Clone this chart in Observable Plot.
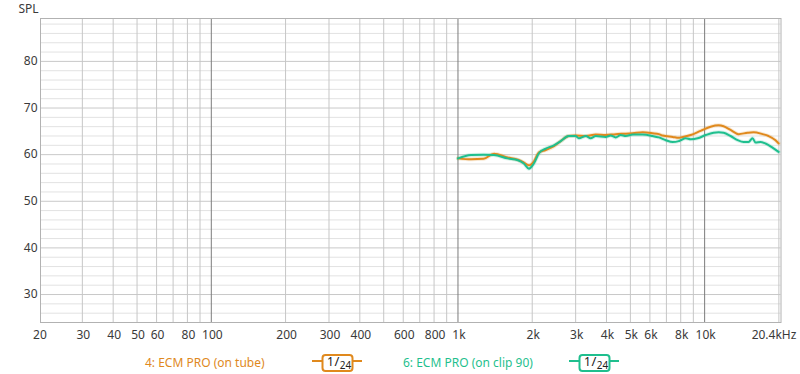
<!DOCTYPE html>
<html>
<head>
<meta charset="utf-8">
<script src="https://cdn.jsdelivr.net/npm/d3@7"></script>
<script src="https://cdn.jsdelivr.net/npm/@observablehq/plot@0.6"></script>
<style>
  html, body { margin: 0; padding: 0; background: #fff; }
  #wrap { width: 800px; height: 374px; overflow: hidden; font-family: "Noto Sans", "Open Sans", sans-serif; }
  svg { display: block; }
</style>
</head>
<body>
<div id="wrap"></div>
<script>
// ---- data ----
const seriesNames = ["4: ECM PRO (on tube)", "6: ECM PRO (on clip 90)"];
const seriesColors = ["#e0891d", "#1fbf8e"];
const smoothing = "1/24";

const freqTube = [1000,1130,1270,1400,1590,1750,1850,1940,2030,2130,2270,2450,2610,2810,3000,3300,3620,3970,4360,4790,5110,5610,6150,6520,6760,7420,7850,8000,8780,9630,10570,11400,11940,12740,13740,14930,15790,17170,18150,19380,19950];
const splTube  = [59.2,59.0,59.1,60.2,59.4,58.9,58.3,57.7,58.5,60.5,61.0,61.8,62.9,64.0,64.1,64.0,64.3,64.2,64.4,64.5,64.6,64.8,64.6,64.4,64.1,63.8,63.6,63.7,64.2,65.1,66.0,66.3,66.1,65.3,64.4,64.7,64.8,64.4,64.0,63.1,62.4];

const freqClip = [1000,1130,1270,1400,1590,1750,1850,1940,2030,2130,2270,2450,2610,2810,3000,3090,3300,3450,3620,3970,4160,4360,4570,4790,5110,5610,6150,6520,6960,7420,7850,8000,8380,8780,9370,10100,10870,11400,11940,12740,13610,14390,15070,15640,16080,16850,17650,18840,19950];
const splClip  = [59.2,59.9,60.0,59.9,59.2,58.8,58.1,57.0,58.1,60.3,61.3,62.0,62.9,64.0,64.0,63.5,64.0,63.5,64.0,63.8,64.1,63.7,64.2,64.0,64.3,64.3,64.0,63.7,63.1,62.7,62.9,63.1,63.5,63.3,63.5,64.2,64.7,64.8,64.7,64.0,63.1,62.7,62.7,63.5,62.6,62.7,62.4,61.5,60.6];

const xTicks = [20,30,40,50,60,80,100,200,300,400,600,800,1000,2000,3000,4000,5000,6000,8000,10000];
const xTickLabels = ["20","30","40","50","60","80","100","200","300","400","600","800","1k","2k","3k","4k","5k","6k","8k","10k"];
const xEndValue = 20400;
const xEndLabel = "20.4kHz";
const yTicks = [30,40,50,60,70,80];
const yLabel = "SPL";

// grid values
const gridX = [30,40,50,60,70,80,90,200,300,400,500,600,700,800,900,2000,3000,4000,5000,6000,7000,8000,9000,20000];
const gridXDecade = [100,1000,10000];
const gridYMinor = d3.range(24, 89, 2).filter(v => v % 10 !== 0);
const gridYMajor = d3.range(30, 89, 10);

const tube = freqTube.map((f, i) => ({f, v: splTube[i]}));
const clip = freqClip.map((f, i) => ({f, v: splClip[i]}));
const xLabelData = xTicks.map((t, i) => ({t, label: xTickLabels[i]}));

const font = '"Noto Sans", "Open Sans", sans-serif';
const textColor = "#3a3a3a";

const chart = Plot.plot({
  width: 800,
  height: 345,
  marginTop: 18,
  marginBottom: 23,
  marginLeft: 40,
  marginRight: 19.5,
  style: {fontFamily: font, fontSize: "12px", color: textColor, background: "#fff"},
  x: {type: "log", domain: [20.3, 20400], axis: null},
  y: {domain: [24, 89.2], axis: null},
  marks: [
    Plot.ruleY(gridYMinor, {stroke: "#e2e2e2", strokeWidth: 1}),
    Plot.ruleY(gridYMajor, {stroke: "#c9c9c9", strokeWidth: 1}),
    Plot.ruleX(gridX, {stroke: "#c6c6c6", strokeWidth: 1}),
    Plot.ruleX(gridXDecade, {stroke: "#7c7c7c", strokeWidth: 1}),
    Plot.frame({stroke: "#b2b2b2"}),
    Plot.line(tube, {x: "f", y: "v", stroke: seriesColors[0], strokeWidth: 4, strokeOpacity: 0.18, curve: "monotone-x"}),
    Plot.line(clip, {x: "f", y: "v", stroke: seriesColors[1], strokeWidth: 4, strokeOpacity: 0.18, curve: "monotone-x"}),
    Plot.line(tube, {x: "f", y: "v", stroke: seriesColors[0], strokeWidth: 2, curve: "monotone-x"}),
    Plot.line(clip, {x: "f", y: "v", stroke: seriesColors[1], strokeWidth: 2, curve: "monotone-x"}),
    // y tick labels
    Plot.text(yTicks, {y: d => d, frameAnchor: "left", text: d => String(d), dx: -3, textAnchor: "end", lineAnchor: "middle", fill: textColor, fontSize: 12}),
    // x tick labels
    Plot.text(xLabelData, {x: "t", frameAnchor: "bottom", text: "label", dx: 1, dy: 13, lineAnchor: "middle", textAnchor: "middle", fill: textColor, fontSize: 12}),
    Plot.text([xEndValue], {x: d => d, frameAnchor: "bottom", text: () => xEndLabel, dx: -7, dy: 13, lineAnchor: "middle", textAnchor: "middle", fill: textColor, fontSize: 12}),
    Plot.text([yLabel], {frameAnchor: "top-left", text: d => d, dx: -12, dy: -9, lineAnchor: "middle", textAnchor: "middle", fill: textColor, fontSize: 12})
  ]
});

const wrap = document.getElementById("wrap");
wrap.appendChild(chart);

// legend below the plot
const legendItems = [
  {name: seriesNames[0], color: seriesColors[0], textX: 145, lineX: 312},
  {name: seriesNames[1], color: seriesColors[1], textX: 403, lineX: 569}
];
const leg = d3.create("svg").attr("width", 800).attr("height", 29)
  .style("font-family", font).style("font-size", "12px");
for (const it of legendItems) {
  const g = leg.append("g");
  g.append("text").attr("x", it.textX).attr("y", 17.5).attr("dy", "0.35em")
    .attr("fill", it.color).text(it.name);
  g.append("line").attr("x1", it.lineX).attr("x2", it.lineX + 50)
    .attr("y1", 16).attr("y2", 16).attr("stroke", it.color).attr("stroke-width", 2);
  g.append("rect").attr("x", it.lineX + 10.5).attr("y", 10).attr("width", 30).attr("height", 16)
    .attr("rx", 3).attr("fill", "#fff").attr("stroke", it.color).attr("stroke-width", 2);
  const [num, den] = smoothing.split("/");
  const t = g.append("text").attr("x", it.lineX + 15).attr("y", 21).attr("fill", "#222");
  t.append("tspan").attr("font-size", 12).text(num);
  t.append("tspan").attr("font-size", 13).attr("dx", 0.5).text("/");
  t.append("tspan").attr("font-size", 10).attr("dy", 3).attr("dx", 0.5).text(den);
}
wrap.appendChild(leg.node());
</script>
</body>
</html>
